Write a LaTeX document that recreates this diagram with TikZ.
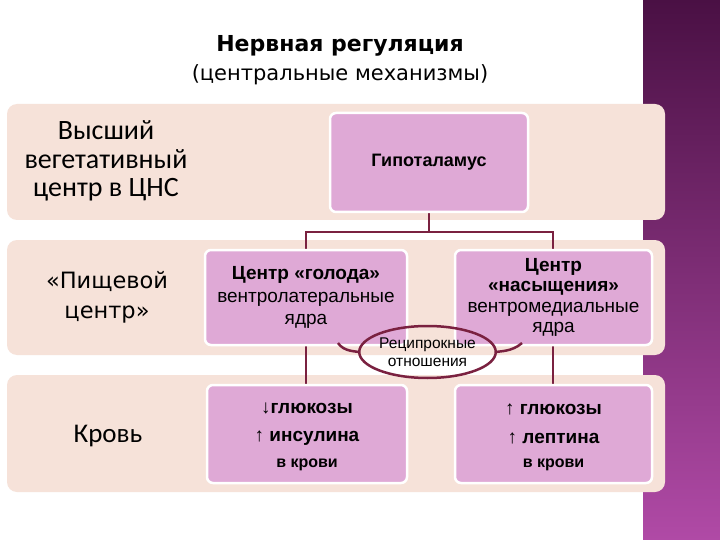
\documentclass[tikz,border=0pt]{standalone}
\usepackage{fontspec}
\setmainfont{Liberation Sans}
\newfontfamily\titlefont{DejaVu Sans}
\newfontfamily\labfont{Carlito}
\usetikzlibrary{shapes.geometric}
\definecolor{bandc}{HTML}{F6E2D9}
\definecolor{boxc}{HTML}{DFA9D6}
\definecolor{linec}{HTML}{7A2140}
\definecolor{plumtop}{HTML}{4A1044}
\definecolor{plumbot}{HTML}{B04AA6}
\tikzset{
  band/.style={fill=bandc, draw=none, rounded corners=10pt, inner sep=0pt},
  cbox/.style={fill=boxc, draw=white, line width=2.5pt, rounded corners=6pt, inner sep=2pt, align=center, text=black},
  conn/.style={draw=linec, line width=2.5pt},
  lab/.style={align=center, font=\labfont\fontsize{28}{28.5}\selectfont, text=black},
}
\begin{document}
\begin{tikzpicture}[x=1pt,y=-1pt]
\useasboundingbox (0,0) rectangle (720,540);
\fill[white] (0,0) rectangle (720,540);
\shade[top color=plumtop, bottom color=plumbot] (643,0) rectangle (720,540);
% title
\node[font=\titlefont\bfseries\fontsize{22}{24}\selectfont] (t1) at (340,46) {Нервная регуляция};
\node[font=\titlefont\fontsize{21}{24}\selectfont] (t2) at (340,75) {(центральные механизмы)};
% bands
\node[band, minimum width=658pt, minimum height=116pt] (b1) at (336,162) {};
\node[band, minimum width=658pt, minimum height=115pt] (b2) at (336,297.5) {};
\node[band, minimum width=658pt, minimum height=117pt] (b3) at (336,433.5) {};
% left labels
\node[lab] (l1) at (106,161) {Высший\\вегетативный\\центр в ЦНС};
\node[lab, font=\titlefont\fontsize{22.5}{30}\selectfont] (l2) at (107,297) {«Пищевой\\центр»};
\node[lab, font=\labfont\fontsize{27}{30}\selectfont] (l3) at (108,436) {Кровь};
% connectors
\coordinate (j) at (429,232);
\coordinate (hypb) at (429,212);
\coordinate (hn) at (306,250);
\coordinate (sn) at (553,250);
\draw[conn] (hypb) -- (j);
\draw[conn] (hn) |- (j) -| (sn);
\coordinate (hs) at (306,345);
\coordinate (hb) at (306,385);
\coordinate (ss) at (553,345);
\coordinate (sb) at (553,385);
\draw[conn] (hs) -- (hb);
\draw[conn] (ss) -- (sb);
% boxes
\node[cbox, minimum width=198pt, minimum height=99pt, font=\bfseries\fontsize{18}{20}\selectfont] (hyp) at (429,162.5) {Гипоталамус};
\node[cbox, minimum width=202pt, minimum height=95pt, font=\fontsize{19}{22.5}\selectfont] (hun) at (306,297.5) {\textbf{Центр «голода»}\\вентролатеральные\\ядра};
\node[cbox, minimum width=197pt, minimum height=95pt, font=\fontsize{19}{20.5}\selectfont] (sat) at (553.5,297.5) {\textbf{Центр}\\\textbf{«насыщения»}\\вентромедиальные\\ядра};
\node[cbox, minimum width=200pt, minimum height=98pt] (bl) at (307,434) {};
\node[cbox, minimum width=197pt, minimum height=98pt] (br) at (553.5,434) {};
\node[font=\bfseries\fontsize{19}{28.5}\selectfont, align=center] (blt) at (307,424) {↓глюкозы\\↑ инсулина};
\node[font=\bfseries\fontsize{16}{18}\selectfont] (blk) at (307,465) {в крови};
\node[font=\bfseries\fontsize{19}{28.5}\selectfont, align=center] (brt) at (553.5,424) {↑ глюкозы\\↑ лептина};
\node[font=\bfseries\fontsize{16}{18}\selectfont] (brk) at (553.5,465) {в крови};
% reciprocal ellipse
\node[ellipse, draw=linec, line width=2.5pt, minimum width=125pt, minimum height=52pt, inner sep=0pt, align=center, font=\fontsize{15.5}{18}\selectfont] (rec) at (427.5,352) {Реципрокные\\отношения};
\coordinate (cl) at (338,343);
\coordinate (cr) at (522,343);
\draw[conn] (cl) .. controls (344,352) and (356,351) .. (rec.west);
\draw[conn] (rec.east) .. controls (499,351) and (512,352) .. (cr);
\end{tikzpicture}
\end{document}
